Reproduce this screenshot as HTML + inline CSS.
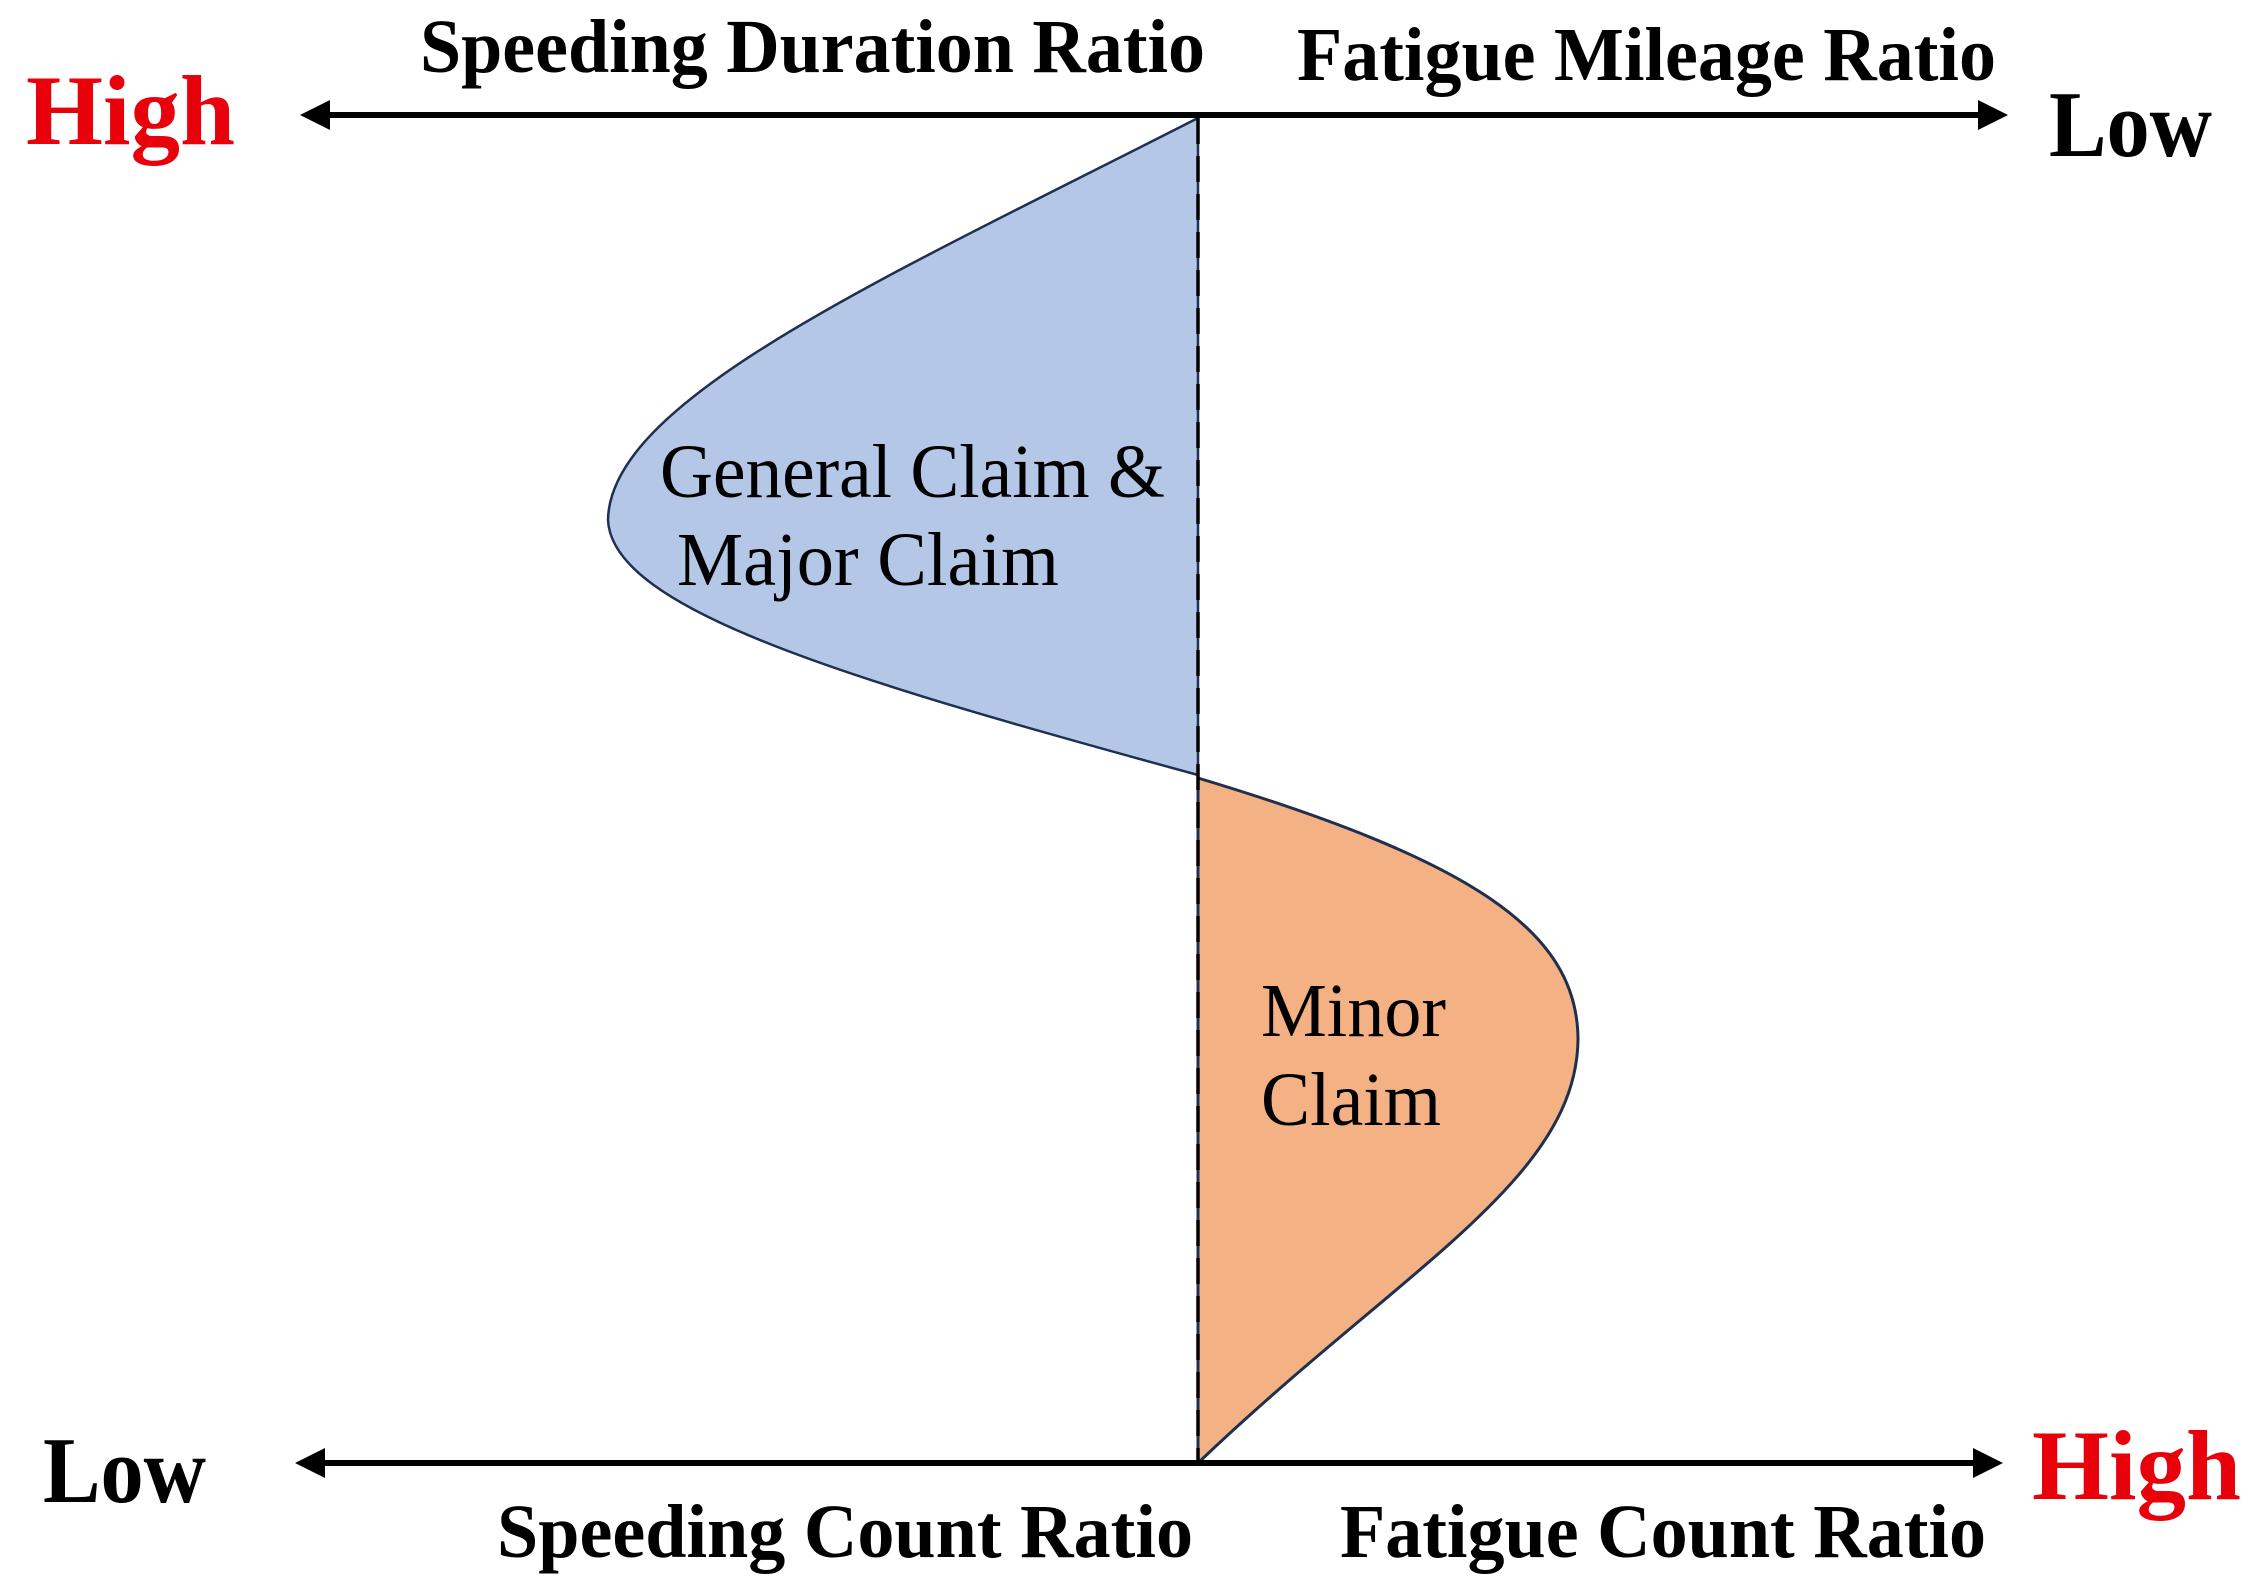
<!DOCTYPE html>
<html><head><meta charset="utf-8"><style>
html,body{margin:0;padding:0;background:#fff;}
svg{display:block;}
text{font-family:"Liberation Serif",serif;}
</style></head><body>
<svg width="2260" height="1592" viewBox="0 0 2260 1592">
<defs>
<marker id="ah" viewBox="0 0 10 10" refX="8" refY="5" markerWidth="5" markerHeight="5" orient="auto-start-reverse"><path d="M0,0 L10,5 L0,10 z" fill="#000"/></marker>
</defs>
<path d="M1198,118 C880,280 610,400 608,520 C612,610 850,680 1198,775 Z" fill="#b4c7e7" stroke="#1f2f4f" stroke-width="2.5"/>
<path d="M1198,778 C1470,860 1578,930 1578,1040 C1576,1180 1400,1270 1198,1463 Z" fill="#f4b183" stroke="#1f2f4f" stroke-width="3"/>
<line x1="1198" y1="118" x2="1198" y2="1463" stroke="#000" stroke-width="3.5" stroke-dasharray="26,12"/>
<line x1="306" y1="115" x2="2002" y2="115" stroke="#000" stroke-width="6" marker-start="url(#ah)" marker-end="url(#ah)"/>
<line x1="301" y1="1463" x2="1997" y2="1463" stroke="#000" stroke-width="6" marker-start="url(#ah)" marker-end="url(#ah)"/>
<text x="420" y="72" font-size="76" font-weight="bold" textLength="785" lengthAdjust="spacingAndGlyphs">Speeding Duration Ratio</text>
<text x="1297" y="80" font-size="76" font-weight="bold" textLength="699" lengthAdjust="spacingAndGlyphs">Fatigue Mileage Ratio</text>
<text x="26" y="144" font-size="100" font-weight="bold" fill="#e8000b" textLength="209" lengthAdjust="spacingAndGlyphs">High</text>
<text x="2049" y="156" font-size="94" font-weight="bold" textLength="163" lengthAdjust="spacingAndGlyphs">Low</text>
<text x="43" y="1502" font-size="94" font-weight="bold" textLength="163" lengthAdjust="spacingAndGlyphs">Low</text>
<text x="2032" y="1499" font-size="100" font-weight="bold" fill="#e8000b" textLength="209" lengthAdjust="spacingAndGlyphs">High</text>
<text x="497" y="1557" font-size="76" font-weight="bold" textLength="696" lengthAdjust="spacingAndGlyphs">Speeding Count Ratio</text>
<text x="1340" y="1557" font-size="76" font-weight="bold" textLength="646" lengthAdjust="spacingAndGlyphs">Fatigue Count Ratio</text>
<text x="660" y="497" font-size="76" textLength="505" lengthAdjust="spacingAndGlyphs">General Claim &amp;</text>
<text x="677" y="585" font-size="76" textLength="382" lengthAdjust="spacingAndGlyphs">Major Claim</text>
<text x="1261" y="1036" font-size="76" textLength="185" lengthAdjust="spacingAndGlyphs">Minor</text>
<text x="1261" y="1125" font-size="76" textLength="180" lengthAdjust="spacingAndGlyphs">Claim</text>
</svg>
</body></html>
